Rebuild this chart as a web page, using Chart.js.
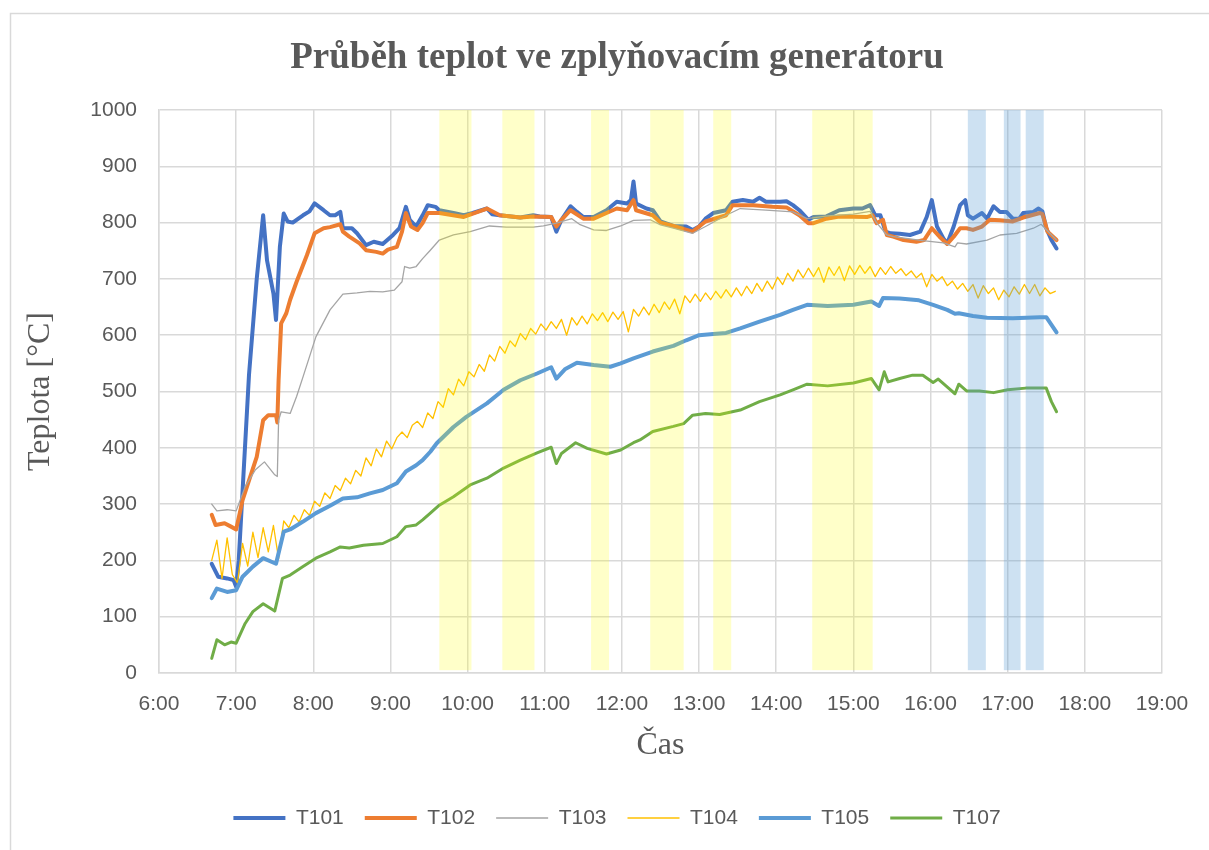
<!DOCTYPE html>
<html lang="cs">
<head>
  <meta charset="UTF-8">
  <title>Průběh teplot ve zplyňovacím generátoru</title>
  <script src="https://cdn.jsdelivr.net/npm/chart.js"></script>
  <style>
    html, body {
      margin: 0;
      padding: 0;
      background: #fff;
      overflow: hidden;
    }
  </style>
</head>
<body>
  <canvas id="graf" width="1209" height="850"></canvas>

  <script>
    // odečtené hodnoty (čas h:mm, teplota °C)
    const casT101 = ['6:41','6:46','6:53','6:58','7:00','7:02','7:10','7:16','7:21','7:24','7:29','7:31','7:34','7:37','7:40','7:44','7:47','7:52','7:57','8:01','8:08','8:13','8:17','8:21','8:23','8:30','8:34','8:41','8:47','8:54','9:02','9:07','9:12','9:15','9:20','9:25','9:29','9:35','9:38','9:49','9:57','10:04','10:15','10:19','10:25','10:41','10:51','10:56','11:05','11:09','11:13','11:20','11:25','11:30','11:38','11:48','11:56','12:04','12:07','12:09','12:11','12:19','12:24','12:30','12:40','12:50','12:55','13:00','13:05','13:11','13:21','13:26','13:34','13:42','13:47','13:52','14:03','14:08','14:13','14:18','14:25','14:29','14:39','14:49','15:00','15:07','15:13','15:17','15:21','15:25','15:29','15:36','15:44','15:52','15:57','16:01','16:05','16:10','16:13','16:18','16:23','16:27','16:29','16:33','16:40','16:44','16:49','16:54','16:59','17:04','17:09','17:12','17:20','17:24','17:27','17:30','17:34','17:38'];
    const T101 = [194,171,168,165,153,200,530,700,813,733,674,627,757,816,802,800,805,813,820,834,822,813,813,819,790,790,781,760,766,762,778,790,828,805,793,813,831,828,822,817,813,817,825,815,813,809,813,811,810,784,805,829,819,810,810,822,837,834,840,873,834,825,822,802,794,793,787,793,807,817,822,837,840,837,844,837,837,838,831,822,805,810,811,822,825,825,831,813,813,784,781,780,778,784,810,840,793,772,763,793,831,840,813,807,817,807,829,819,819,807,807,817,819,825,820,790,769,754];

    const casT102 = ['6:41','6:44','6:51','6:56','7:00','7:05','7:16','7:21','7:25','7:31','7:32','7:33','7:35','7:39','7:42','7:47','7:55','8:01','8:08','8:13','8:21','8:23','8:28','8:36','8:41','8:49','8:54','8:58','9:05','9:09','9:12','9:16','9:21','9:25','9:29','9:38','9:57','10:15','10:25','10:41','10:51','11:05','11:09','11:13','11:20','11:30','11:38','11:48','11:56','12:04','12:09','12:11','12:24','12:30','12:40','12:55','13:05','13:21','13:26','13:42','13:57','14:08','14:18','14:25','14:29','14:39','14:49','15:11','15:15','15:18','15:23','15:26','15:31','15:39','15:49','15:55','16:01','16:07','16:13','16:18','16:23','16:28','16:33','16:40','16:46','16:54','17:04','17:12','17:25','17:27','17:31','17:38'];
    const T102 = [281,263,266,260,255,307,384,449,458,458,445,520,621,639,663,695,742,781,790,792,797,784,775,763,751,748,745,752,757,784,817,793,787,799,817,817,810,825,813,809,811,810,793,805,822,807,807,817,825,822,840,822,813,800,794,784,802,813,831,831,828,827,813,799,799,807,811,810,813,799,805,778,775,769,766,769,790,775,762,775,790,790,787,793,805,804,802,809,817,815,784,769];

    const casT103 = ['6:41','6:45','6:53','7:00','7:07','7:15','7:22','7:30','7:32','7:33','7:35','7:42','7:47','7:52','8:02','8:13','8:23','8:34','8:44','8:54','9:03','9:09','9:11','9:15','9:20','9:25','9:31','9:38','9:49','10:02','10:17','10:30','10:51','10:59','11:09','11:21','11:27','11:38','11:48','11:59','12:09','12:22','12:30','12:40','12:55','13:05','13:21','13:32','13:52','14:13','14:24','14:40','15:00','15:13','15:18','15:26','15:31','15:54','16:10','16:19','16:21','16:28','16:44','16:54','17:07','17:20','17:26','17:29','17:38'];
    const T103 = [300,288,290,288,331,361,375,352,349,449,464,461,491,526,597,645,673,675,678,677,680,695,722,719,722,736,751,769,778,784,794,792,792,794,799,807,797,787,786,794,804,805,796,790,781,793,813,825,822,819,807,812,815,820,800,778,775,768,764,757,764,762,769,778,781,790,797,790,769];

    // T104 je zaznamenána po 4 minutách od 6:41
    const zacatekT104 = '6:41';
    const krokT104 = 4;
    const T104 = [200,236,168,240,175,160,230,190,250,205,258,215,262,203,270,258,280,268,290,280,
                  305,296,320,310,333,324,346,336,360,350,382,368,398,384,412,398,418,428,418,440,
                  447,436,462,452,482,472,505,494,522,510,535,526,548,536,565,554,580,568,590,580,
                  603,592,612,602,620,609,624,612,628,600,631,618,634,620,638,626,640,624,641,628,
                  642,606,646,634,650,636,655,640,659,646,664,638,670,658,673,660,675,663,678,666,
                  681,668,684,670,687,674,692,678,696,682,703,690,710,696,716,702,719,704,720,694,
                  721,706,722,697,723,708,724,710,722,704,720,708,722,710,718,706,714,702,710,686,
                  708,696,704,688,696,682,692,678,690,666,688,674,684,663,680,668,686,673,690,674,
                  690,670,684,674,678];

    const casT105 = ['6:41','6:45','6:53','7:00','7:05','7:13','7:21','7:31','7:37','7:42','7:52','8:02','8:13','8:23','8:34','8:44','8:54','9:05','9:12','9:20','9:25','9:31','9:36','9:49','9:59','10:15','10:28','10:41','10:54','11:05','11:09','11:16','11:25','11:38','11:51','11:59','12:09','12:24','12:40','12:50','13:00','13:11','13:21','13:32','13:47','14:03','14:13','14:24','14:40','15:00','15:14','15:20','15:23','15:36','15:51','16:02','16:13','16:19','16:22','16:33','16:44','17:04','17:25','17:30','17:38'];
    const T105 = [133,150,144,147,171,189,204,194,251,255,269,284,297,310,312,319,325,337,358,369,378,393,408,437,455,479,503,520,532,543,523,540,551,547,544,550,559,571,581,591,600,602,604,612,624,636,645,654,652,654,660,652,666,665,662,654,645,638,639,634,631,630,632,632,605];

    const casT107 = ['6:41','6:45','6:51','6:56','7:00','7:07','7:13','7:21','7:30','7:36','7:42','7:52','8:02','8:13','8:21','8:28','8:39','8:54','9:05','9:12','9:20','9:25','9:31','9:38','9:49','10:02','10:15','10:28','10:41','10:54','11:05','11:09','11:13','11:24','11:33','11:48','11:59','12:09','12:14','12:24','12:40','12:48','12:55','13:05','13:16','13:32','13:47','14:03','14:13','14:24','14:40','15:00','15:14','15:20','15:24','15:27','15:36','15:46','15:54','16:02','16:06','16:14','16:19','16:22','16:28','16:38','16:49','17:00','17:14','17:30','17:34','17:38'];
    const T107 = [26,59,50,55,53,88,109,123,110,168,174,189,204,215,224,222,227,230,242,260,263,272,284,298,313,334,346,364,378,391,401,372,390,409,399,389,396,409,414,429,438,443,458,461,459,467,482,494,503,513,510,515,523,503,535,517,523,529,529,516,522,506,496,513,501,501,498,503,506,506,482,464];

    // vyznačené úseky (od, do)
    const zluteUseky = [['9:38','10:03'], ['10:27','10:52'], ['11:36','11:50'], ['12:22','12:48'], ['13:11','13:25'], ['14:28','15:15']];
    const modreUseky = [['16:29','16:43'], ['16:57','17:10'], ['17:14','17:28']];

    const popiskyOsyX = ['6:00','7:00','8:00','9:00','10:00','11:00','12:00','13:00','14:00','15:00','16:00','17:00','18:00','19:00'];

    function naMinuty(cas) {
      const [h, m] = cas.split(':').map(Number);
      return h * 60 + m;
    }

    function body(casy, hodnoty) {
      return casy.map((c, i) => ({ x: naMinuty(c), y: hodnoty[i] }));
    }

    const bodyT104 = T104.map((v, i) => ({ x: naMinuty(zacatekT104) + i * krokT104, y: v }));

    const serif = "'Liberation Serif', 'Times New Roman', serif";
    const sans = "'Liberation Sans', Arial, sans-serif";
    const sedaText = '#595959';
    const mrizka = '#d9d9d9';

    function rada(nazev, data, barva, sirka, poradi) {
      return {
        label: nazev,
        data: data,
        borderColor: barva,
        backgroundColor: barva,
        borderWidth: sirka,
        borderCapStyle: 'round',
        borderJoinStyle: 'round',
        pointRadius: 0,
        pointHoverRadius: 0,
        pointStyle: 'line',
        tension: 0,
        fill: false,
        order: poradi
      };
    }

    const ramecek = {
      id: 'ramecek',
      beforeDraw(chart) {
        const c = chart.ctx;
        c.save();
        c.fillStyle = '#fff';
        c.fillRect(0, 0, chart.width, chart.height);
        c.strokeStyle = mrizka;
        c.lineWidth = 1.5;
        c.strokeRect(10.5, 13.5, chart.width + 40, chart.height + 40);
        c.restore();
      }
    };

    const pasma = {
      id: 'pasma',
      afterDatasetsDraw(chart) {
        const { ctx, scales } = chart;
        const x = scales.x, y = scales.y;
        const horni = y.getPixelForValue(1000);
        const dolni = y.getPixelForValue(5);
        const kresli = (useky, barva) => {
          ctx.fillStyle = barva;
          useky.forEach(([od, po]) => {
            const x1 = x.getPixelForValue(naMinuty(od));
            const x2 = x.getPixelForValue(naMinuty(po));
            ctx.fillRect(x1, horni, x2 - x1, dolni - horni);
          });
        };
        ctx.save();
        kresli(zluteUseky, 'rgba(255, 255, 0, 0.21)');
        kresli(modreUseky, 'rgba(91, 155, 213, 0.30)');
        ctx.restore();
      }
    };

    const ctx = document.getElementById('graf').getContext('2d');

    new Chart(ctx, {
      type: 'line',
      data: {
        datasets: [
          rada('T101', body(casT101, T101), '#4472C4', 4, 6),
          rada('T102', body(casT102, T102), '#ED7D31', 4, 5),
          rada('T103', body(casT103, T103), '#A5A5A5', 1.3, 4),
          rada('T104', bodyT104, '#FFC000', 1.3, 3),
          rada('T105', body(casT105, T105), '#5B9BD5', 4, 2),
          rada('T107', body(casT107, T107), '#70AD47', 3, 1)
        ]
      },
      options: {
        responsive: false,
        animation: false,
        events: [],
        layout: {
          padding: { left: 25, right: 0, top: 0, bottom: 11.5 }
        },
        scales: {
          x: {
            type: 'linear',
            min: 360,
            max: 1140,
            afterBuildTicks(scale) {
              scale.ticks = popiskyOsyX.map(t => ({ value: naMinuty(t), label: t }));
            },
            ticks: {
              autoSkip: false,
              maxRotation: 0,
              padding: 19,
              color: sedaText,
              font: { family: sans, size: 21 },
              callback(v) {
                const t = popiskyOsyX.find(p => naMinuty(p) === v);
                return t || '';
              }
            },
            grid: { color: mrizka, lineWidth: 1.5, drawTicks: false },
            border: { color: mrizka, width: 1.5 },
            title: {
              display: true,
              text: 'Čas',
              color: sedaText,
              font: { family: serif, size: 32, lineHeight: 1.2 },
              padding: { top: 0, bottom: 22 }
            },
            afterFit(scale) { scale.height = 113.5; }
          },
          y: {
            min: 0,
            max: 1000,
            ticks: {
              stepSize: 100,
              padding: 22,
              color: sedaText,
              font: { family: sans, size: 21 },
              callback: (v) => String(v)
            },
            grid: { color: mrizka, lineWidth: 1.5, drawTicks: false },
            border: { color: mrizka, width: 1.5 },
            title: {
              display: true,
              text: 'Teplota [°C]',
              color: sedaText,
              font: { family: serif, size: 32, lineHeight: 1 },
              padding: 0
            },
            afterFit(scale) { scale.width = 134; }
          },
          vpravo: {
            type: 'linear',
            position: 'right',
            grid: { display: false },
            border: { display: false },
            ticks: { display: false },
            afterFit(scale) { scale.width = 47; }
          }
        },
        plugins: {
          title: {
            display: true,
            text: 'Průběh teplot ve zplyňovacím generátoru',
            color: sedaText,
            font: { family: serif, size: 37, weight: 'bold', lineHeight: 1.2 },
            padding: { top: 36, bottom: 29.6 }
          },
          legend: {
            display: true,
            position: 'bottom',
            labels: {
              usePointStyle: true,
              pointStyleWidth: 52,
              padding: 21,
              color: sedaText,
              font: { family: sans, size: 21 },
              sort: (a, b) => a.datasetIndex - b.datasetIndex
            }
          },
          tooltip: { enabled: false }
        }
      },
      plugins: [ramecek, pasma]
    });
  </script>
</body>
</html>
